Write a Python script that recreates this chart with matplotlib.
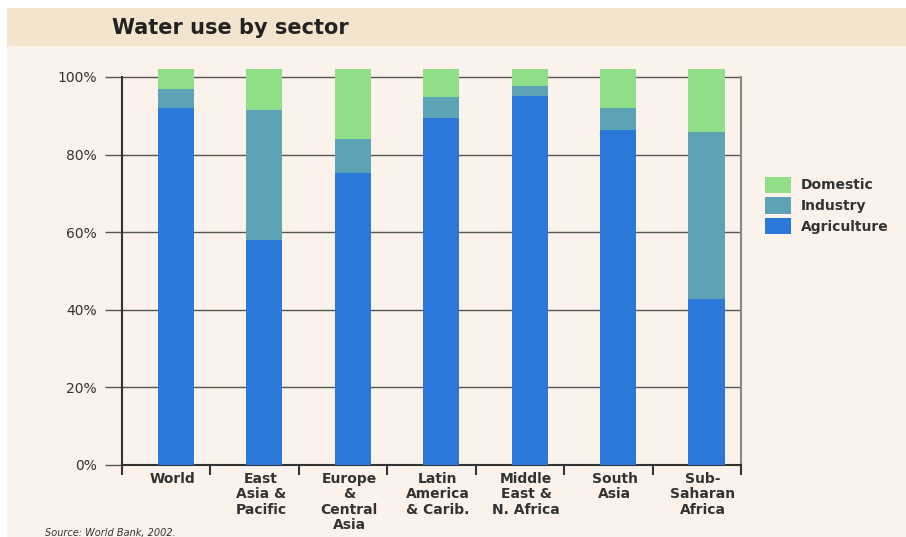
import matplotlib.pyplot as plt
from matplotlib.patches import Rectangle

# values (percent); bars overshoot 100 slightly in the original
regioes = ["World", "East\nAsia &\nPacific", "Europe\n&\nCentral\nAsia", "Latin\nAmerica\n& Carib.",
           "Middle\nEast &\nN. Africa", "South\nAsia", "Sub-\nSaharan\nAfrica"]
agricultura = [92.0, 58.0, 75.3, 89.4, 95.1, 86.3, 42.8]
industria = [4.9, 33.5, 8.7, 5.4, 2.6, 5.7, 43.0]
domestico = [5.1, 10.5, 18.0, 7.2, 4.3, 10.0, 16.2]
y_ticks = [0, 20, 40, 60, 80, 100]

cor_agri = "#2c77da"
cor_ind = "#5ca3b6"
cor_dom = "#90de88"
fundo = "#faf2eb"

fig = plt.figure(figsize=(9.06, 5.37), dpi=100)
fig.patch.set_facecolor("white")
# page background and title band
fig.patches.append(Rectangle((7 / 906, 0), 1, 1 - 46 / 537, transform=fig.transFigure,
                             facecolor=fundo, edgecolor="none", zorder=-2))
fig.patches.append(Rectangle((7 / 906, 1 - 46 / 537), 1, 38 / 537, transform=fig.transFigure,
                             facecolor="#f3e4cd", edgecolor="none", zorder=-2))
fig.text(112 / 906, 1 - 28 / 537, "Water use by sector", fontsize=15, fontweight="bold",
         family="DejaVu Sans", color="#222222", va="center", ha="left")

ax = fig.add_axes([122 / 906, 72 / 537, 619 / 906, 397.7 / 537])
ax.set_facecolor(fundo)

# bars sit a little right of the middle of each slot
x = [i + 0.11 for i in range(len(regioes))]
base2 = [a + b for a, b in zip(agricultura, industria)]
ax.bar(x, agricultura, width=0.41, color=cor_agri, label="Agriculture", zorder=3)
ax.bar(x, industria, width=0.41, bottom=agricultura, color=cor_ind, label="Industry", zorder=3)
ax.bar(x, domestico, width=0.41, bottom=base2, color=cor_dom, label="Domestic", zorder=3)

ax.set_xlim(-0.5, len(regioes) - 0.5)
ax.set_ylim(0, 102.5)
ax.set_yticks(y_ticks)
ax.set_yticklabels([f"{v}%" for v in y_ticks], fontsize=10, color="#333333", family="DejaVu Sans")
ax.grid(axis="y", color="#555555", linewidth=1, zorder=1)
ax.tick_params(axis="y", length=12, width=1, color="#555555", pad=6)

ax.set_xticks([i - 0.5 for i in range(len(regioes) + 1)])
ax.set_xticklabels([])
ax.tick_params(axis="x", length=7, width=1.5, color="#333333", direction="out")
for i, nome in enumerate(regioes):
    ax.text(i + 0.07, -1.8, nome, ha="center", va="top", fontsize=10, fontweight="bold",
            color="#333333", family="DejaVu Sans", linespacing=1.12)

ax.spines["top"].set_visible(False)
ax.spines["left"].set_color("#333333")
ax.spines["left"].set_linewidth(1.5)
ax.spines["bottom"].set_color("#333333")
ax.spines["bottom"].set_linewidth(1.5)
ax.spines["right"].set_color("#888888")
ax.spines["right"].set_linewidth(1.5)
ax.spines["right"].set_bounds(0, 100)
ax.spines["left"].set_bounds(0, 100)

h, l = ax.get_legend_handles_labels()
leg = fig.legend(h[::-1], l[::-1], loc="upper left", bbox_to_anchor=(752 / 906, 1 - 164 / 537),
                 frameon=False, fontsize=10, handlelength=1.9, handleheight=1.45,
                 labelspacing=0.3, handletextpad=0.7)
for t in leg.get_texts():
    t.set_color("#333333")
    t.set_fontweight("bold")

fig.text(45 / 906, 1 - 533 / 537, "Source: World Bank, 2002.", fontsize=7, style="italic",
         color="#333333", va="center")

fig.savefig("out.png", dpi=100, facecolor=fig.get_facecolor())
